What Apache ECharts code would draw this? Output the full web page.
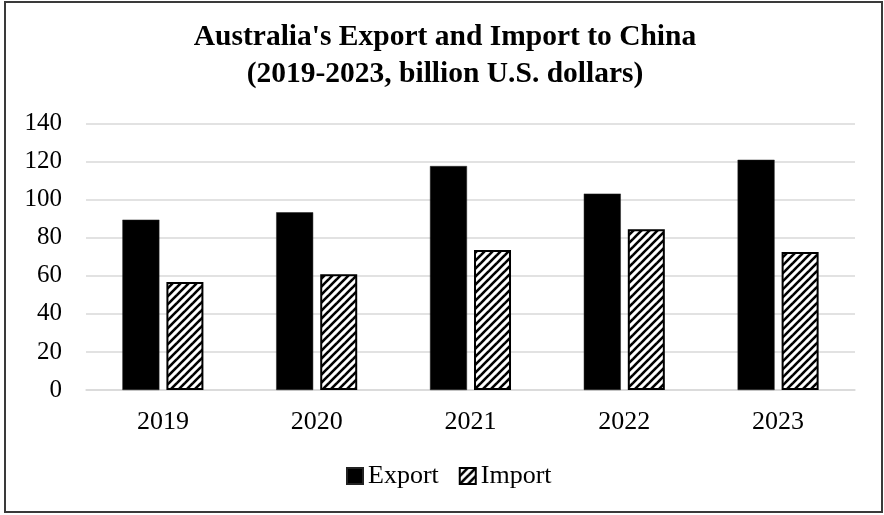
<!DOCTYPE html>
<html>
<head>
<meta charset="utf-8">
<script src="https://cdn.jsdelivr.net/npm/echarts@6/dist/echarts.min.js"></script>
<style>
html,body{margin:0;padding:0;background:#fff;}
#chart{width:884px;height:515px;}
</style>
</head>
<body>
<div id="chart"></div>
<script>
const titleLines = ["Australia's Export and Import to China", "(2019-2023, billion U.S. dollars)"];
const years = ['2019', '2020', '2021', '2022', '2023'];
const exportValues = [89.5, 93.4, 117.7, 103.2, 121.0];
const importValues = [56.8, 60.8, 73.6, 84.5, 72.5];
const seriesNames = ['Export', 'Import'];

function stripes() {
  const c = document.createElement('canvas');
  c.width = 8; c.height = 8;
  const ctx = c.getContext('2d');
  ctx.fillStyle = '#fff';
  ctx.fillRect(0, 0, 8, 8);
  ctx.strokeStyle = '#000';
  ctx.lineWidth = 2.6;
  [-8, 0, 8].forEach(function (o) {
    ctx.beginPath();
    ctx.moveTo(o - 2, 10);
    ctx.lineTo(o + 10, -2);
    ctx.stroke();
  });
  return c;
}

const chart = echarts.init(document.getElementById('chart'), null, {renderer: 'canvas'});
const FONT = '"Liberation Serif", "Times New Roman", serif';
chart.setOption({
  animation: false,
  backgroundColor: '#fff',
  title: {
    text: titleLines.join('\n'),
    left: 440,
    textAlign: 'center',
    top: 14,
    textStyle: {fontFamily: FONT, fontWeight: 'bold', fontSize: 29.5, lineHeight: 37, color: '#000'}
  },
  legend: {
    data: seriesNames,
    bottom: 21,
    left: 341,
    itemWidth: 16,
    itemHeight: 16,
    itemGap: 20,
    icon: 'rect',
    textStyle: {fontFamily: FONT, fontSize: 26, color: '#000'}
  },
  grid: {left: 86, right: 29, top: 123.6, bottom: 125},
  xAxis: {
    type: 'category',
    data: years,
    axisLine: {show: true, lineStyle: {color: '#d9d9d9', width: 1.5}},
    axisTick: {show: false},
    axisLabel: {fontFamily: FONT, fontSize: 26, color: '#000', margin: 19}
  },
  yAxis: {
    type: 'value',
    min: 0, max: 140, interval: 20,
    axisLine: {show: false},
    axisTick: {show: false},
    splitLine: {lineStyle: {color: '#d9d9d9', width: 1.5}},
    axisLabel: {fontFamily: FONT, fontSize: 25, color: '#000', margin: 24}
  },
  series: [
    {
      name: seriesNames[0],
      type: 'bar',
      data: exportValues,
      barWidth: 37,
      barGap: '19%',
      itemStyle: {color: '#000', borderColor: '#222', borderWidth: 0.5}
    },
    {
      name: seriesNames[1],
      type: 'bar',
      data: importValues,
      barWidth: 37,
      itemStyle: {color: {image: stripes(), repeat: 'repeat'}, borderColor: '#000', borderWidth: 2}
    }
  ],
  graphic: [{
    type: 'rect',
    shape: {x: 5, y: 2, width: 877, height: 510},
    style: {fill: 'none', stroke: '#3a3a3a', lineWidth: 2},
    silent: true
  }]
});
</script>
</body>
</html>
